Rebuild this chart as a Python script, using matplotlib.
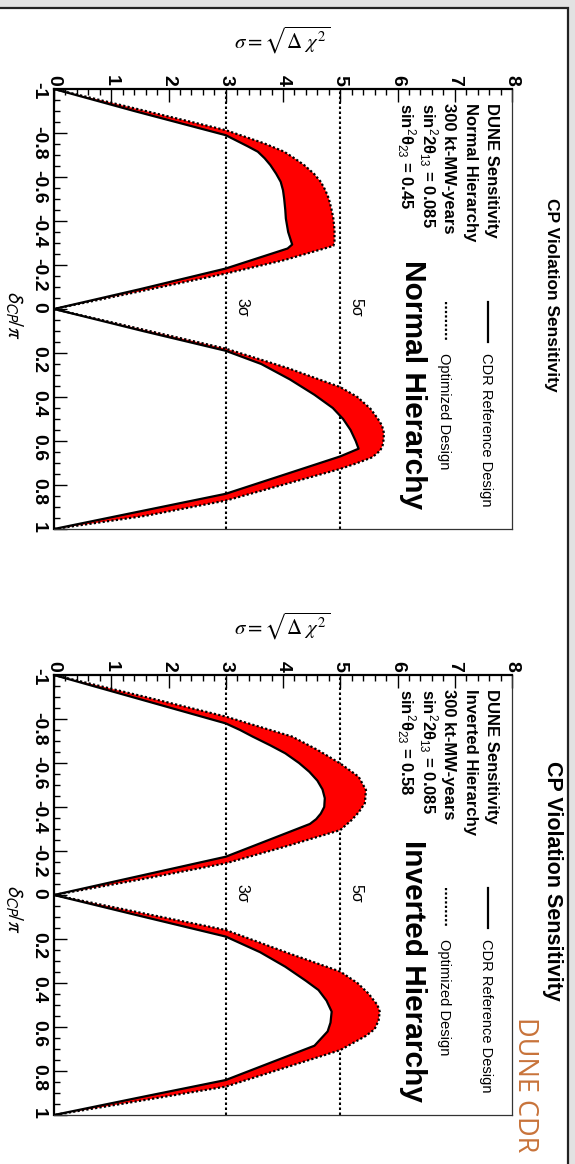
import matplotlib
matplotlib.use("Agg")
import matplotlib.pyplot as plt
from matplotlib.patches import Rectangle
from matplotlib.ticker import MultipleLocator, FixedLocator, FixedFormatter

plt.rcParams['font.family'] = ['Liberation Sans', 'DejaVu Sans']
plt.rcParams['mathtext.fontset'] = 'custom'
plt.rcParams['mathtext.rm'] = 'Liberation Sans'
plt.rcParams['mathtext.it'] = 'Liberation Sans:italic'
plt.rcParams['mathtext.bf'] = 'Liberation Sans:bold'

# ---------------- data ----------------
dcp_ticks = [-1, -0.8, -0.6, -0.4, -0.2, 0, 0.2, 0.4, 0.6, 0.8, 1]
dcp_tick_labels = ['-1', '-0.8', '-0.6', '-0.4', '-0.2', '0', '0.2', '0.4', '0.6', '0.8', '1']
sigma_ticks = [0, 1, 2, 3, 4, 5, 6, 7, 8]
sigma_tick_labels = ['0', '1', '2', '3', '4', '5', '6', '7', '8']
sigma_levels = [3, 5]
sigma_level_labels = ['3σ', '5σ']

# Normal hierarchy (delta_CP/pi, sigma)
dcp_nh_cdr = [-1.0, -0.9, -0.79, -0.74, -0.715, -0.685, -0.654, -0.615, -0.578, -0.54, -0.502,
              -0.45, -0.411, -0.35, -0.293, -0.275, -0.184, -0.09, 0.0, 0.1, 0.19, 0.25,
              0.32, 0.39, 0.45, 0.50, 0.55, 0.60, 0.635, 0.67, 0.84, 0.92, 1.0]
sig_nh_cdr = [0.0, 1.4, 3.0, 3.38, 3.56, 3.68, 3.78, 3.88, 3.96, 4.0, 4.02,
              4.04, 4.05, 4.09, 4.16, 4.08, 3.0, 1.5, 0.0, 1.55, 3.0, 3.62,
              4.12, 4.55, 4.87, 5.05, 5.18, 5.27, 5.32, 5.0, 3.0, 1.5, 0.0]
dcp_nh_opt = [-1.0, -0.9, -0.813, -0.753, -0.715, -0.685, -0.654, -0.615, -0.578, -0.54, -0.502,
              -0.45, -0.411, -0.36, -0.305, -0.287, -0.222, -0.161, -0.08, 0.0, 0.09, 0.18,
              0.27, 0.355, 0.40, 0.454, 0.50, 0.53, 0.56, 0.59, 0.62, 0.643, 0.674, 0.70,
              0.727, 0.871, 0.94, 1.0]
sig_nh_opt = [0.0, 1.6, 3.0, 3.67, 4.02, 4.2, 4.37, 4.54, 4.66, 4.74, 4.80,
              4.85, 4.88, 4.9, 4.90, 4.88, 4.02, 3.0, 1.5, 0.0, 1.5, 3.0,
              4.1, 5.0, 5.3, 5.53, 5.66, 5.73, 5.76, 5.76, 5.74, 5.70, 5.56, 5.3,
              5.0, 3.0, 1.6, 0.0]

# Inverted hierarchy (delta_CP/pi, sigma)
dcp_ih_cdr = [-1.0, -0.89, -0.78, -0.75, -0.72, -0.68, -0.644, -0.60, -0.56, -0.52, -0.48,
              -0.44, -0.40, -0.37, -0.345, -0.323, -0.174, -0.087, 0.0, 0.095, 0.189, 0.26,
              0.326, 0.39, 0.432, 0.48, 0.53, 0.58, 0.62, 0.685, 0.841, 0.92, 1.0]
sig_ih_cdr = [0.0, 1.5, 3.0, 3.25, 3.47, 3.78, 4.04, 4.28, 4.46, 4.6, 4.69,
              4.73, 4.72, 4.66, 4.58, 4.47, 3.0, 1.5, 0.0, 1.5, 3.0, 3.6,
              4.04, 4.4, 4.62, 4.76, 4.85, 4.83, 4.78, 4.55, 3.0, 1.5, 0.0]
dcp_ih_opt = [-1.0, -0.9, -0.811, -0.76, -0.72, -0.66, -0.598, -0.538, -0.477, -0.417, -0.375,
              -0.341, -0.295, -0.22, -0.144, -0.07, 0.0, 0.08, 0.159, 0.265, 0.348, 0.40,
              0.447, 0.50, 0.53, 0.57, 0.61, 0.64, 0.659, 0.705, 0.871, 0.94, 1.0]
sig_ih_opt = [0.0, 1.6, 3.0, 3.65, 4.16, 4.6, 5.0, 5.32, 5.45, 5.43, 5.32,
              5.2, 5.0, 4.04, 3.0, 1.5, 0.0, 1.5, 3.0, 4.1, 5.0, 5.3,
              5.49, 5.65, 5.69, 5.67, 5.6, 5.45, 5.32, 5.0, 3.0, 1.4, 0.0]

panels = [
    dict(cdr=(sig_nh_cdr, dcp_nh_cdr), opt=(sig_nh_opt, dcp_nh_opt),
         info=['DUNE Sensitivity', 'Normal Hierarchy', '300 kt-MW-years',
               'sin$^{2}$2θ$_{13}$ = 0.085', 'sin$^{2}$θ$_{23}$ = 0.45'],
         big='Normal Hierarchy', title='CP Violation Sensitivity', title_size=12.5,
         top_px=89, xlab_d=0.03, big_d=-0.223),
    dict(cdr=(sig_ih_cdr, dcp_ih_cdr), opt=(sig_ih_opt, dcp_ih_opt),
         info=['DUNE Sensitivity', 'Inverted Hierarchy', '300 kt-MW-years',
               'sin$^{2}$2θ$_{13}$ = 0.085', 'sin$^{2}$θ$_{23}$ = 0.58'],
         big='Inverted Hierarchy', title='CP Violation Sensitivity', title_size=15.5,
         top_px=675, xlab_d=0.065, big_d=-0.25),
]

W, H = 575, 1164
fig = plt.figure(figsize=(W / 100, H / 100), dpi=100)
fig.patch.set_facecolor('#e2e2e2')
page = Rectangle((-0.02, -0.02), 568 / W + 0.02, 1 - 8 / H + 0.02, transform=fig.transFigure,
                 facecolor='white', edgecolor='#222222', linewidth=1.6, zorder=-10)
fig.patches.append(page)

ax_left, ax_right = 54, 512
ax_h = 440

for p in panels:
    top = p['top_px']
    ax = fig.add_axes([ax_left / W, 1 - (top + ax_h) / H, (ax_right - ax_left) / W, ax_h / H])
    ax.set_zorder(1)
    ax.patch.set_alpha(0)
    ax.set_xlim(0, 8)
    ax.set_ylim(1, -1)

    sc, dc = p['cdr']
    so, do = p['opt']
    ax.fill(list(sc) + list(so[::-1]), list(dc) + list(do[::-1]), color='#ff0000', lw=0, zorder=2)
    ax.plot(so, do, color='black', lw=1.6, ls=(0, (1, 1)), zorder=3)
    ax.plot(sc, dc, color='black', lw=1.6, zorder=4)

    for lev, lab in zip(sigma_levels, sigma_level_labels):
        ax.axvline(lev, color='black', lw=1.5, ls=(0, (1.2, 1.2)), zorder=1)
        ax.text(lev + 0.2, -0.05, lab, rotation=270, rotation_mode='anchor',
                ha='left', va='baseline', fontsize=11.5)

    # ticks
    ax.xaxis.tick_top()
    ax.xaxis.set_major_locator(FixedLocator(sigma_ticks))
    ax.xaxis.set_major_formatter(FixedFormatter(sigma_tick_labels))
    ax.xaxis.set_minor_locator(MultipleLocator(0.2))
    ax.yaxis.set_major_locator(FixedLocator(dcp_ticks))
    ax.yaxis.set_major_formatter(FixedFormatter(dcp_tick_labels))
    ax.yaxis.set_minor_locator(MultipleLocator(0.05))
    ax.tick_params(axis='both', which='both', direction='in', right=False, bottom=False,
                   top=True, left=True, width=1.0)
    ax.tick_params(axis='both', which='major', length=9, labelsize=14)
    ax.tick_params(axis='x', which='major', pad=2.5)
    ax.tick_params(axis='y', which='major', pad=5)
    ax.tick_params(axis='both', which='minor', length=4.5)
    for t in ax.get_xticklabels():
        t.set_rotation(270)
        t.set_fontweight('bold')
    for t in ax.get_yticklabels():
        t.set_rotation(270)
        t.set_fontweight('bold')

    for side in ['left', 'top']:
        ax.spines[side].set_linewidth(1.6)
    for side in ['right', 'bottom']:
        ax.spines[side].set_linewidth(0.9)
        ax.spines[side].set_color('#333333')

    # info text block
    xs = [7.56, 7.20, 6.82, 6.43, 6.05]
    for xv, line in zip(xs, p['info']):
        ax.text(xv, -0.935, line, rotation=270, rotation_mode='anchor', ha='left',
                va='baseline', fontsize=12, fontweight='bold')

    # legend
    ax.plot([7.58, 7.58], [-0.03, 0.15], color='black', lw=1.6, clip_on=False)
    ax.text(7.48, 0.2, 'CDR Reference Design', rotation=270, rotation_mode='anchor',
            ha='left', va='baseline', fontsize=10.5)
    ax.plot([6.84, 6.84], [-0.03, 0.15], color='black', lw=1.6, ls=(0, (1, 1)), clip_on=False)
    ax.text(6.74, 0.2, 'Optimized Design', rotation=270, rotation_mode='anchor',
            ha='left', va='baseline', fontsize=10.5)

    # big label
    ax.text(6.13, p['big_d'], p['big'], rotation=270, rotation_mode='anchor', ha='left',
            va='baseline', fontsize=21.5, fontweight='bold')

    # title
    ax.text(8.62, -0.065, p['title'], rotation=270, rotation_mode='anchor', ha='center',
            va='baseline', fontsize=p['title_size'], fontweight='bold', clip_on=False)

    # axis labels
    ax.text(-0.7, p['xlab_d'], r'$\delta_{CP}/\pi$', rotation=270, ha='center', va='center',
            fontsize=15, clip_on=False, math_fontfamily='stixsans')
    fig.text(282 / W, 1 - (top - 49) / H, r'$\sigma = \sqrt{\Delta\ \chi^{2}}$',
             ha='center', va='center', fontsize=15, math_fontfamily='stix')

fig.text(518 / W, 1 - 1017 / H, 'DUNE CDR', rotation=270, rotation_mode='anchor', ha='left',
         va='baseline', fontsize=19.5, color='#c8733a', family=['Open Sans', 'DejaVu Sans'])

fig.savefig('out.png', dpi=100, facecolor=fig.get_facecolor())
